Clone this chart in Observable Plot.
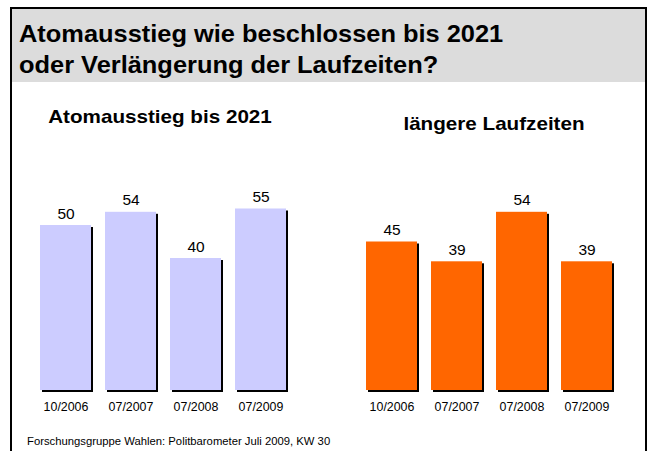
<!DOCTYPE html>
<html>
<head>
<meta charset="utf-8">
<script src="https://cdn.jsdelivr.net/npm/d3@7"></script>
<script src="https://cdn.jsdelivr.net/npm/@observablehq/plot@0.6"></script>
<style>
  body { margin: 0; background: #fff; }
  #page { position: relative; width: 653px; height: 451px; overflow: hidden; background: #fff; font-family: "Liberation Sans", Arial, sans-serif; }
  #frame { position: absolute; left: 10px; top: 7px; width: 637px; height: 480px; border: 2px solid #000; box-sizing: border-box; }
  #titlebox { position: absolute; left: 12px; top: 9px; width: 633px; height: 73px; background: #dcdcdc; }
  #title { position: absolute; left: 19px; top: 19px; font-size: 23.4px; font-weight: bold; line-height: 31px; color: #000; white-space: nowrap; transform: scaleX(1.086); transform-origin: left top; }
  .sub { position: absolute; font-size: 19px; font-weight: bold; color: #000; white-space: nowrap; transform: translateX(-50%) scaleX(1.086); }
  #caption { position: absolute; left: 27px; top: 436px; font-size: 10.4px; color: #000; white-space: nowrap; transform: scaleX(1.086); transform-origin: left top; }
  .plot { position: absolute; top: 130px; }
</style>
</head>
<body>
<div id="page">
  <div id="frame"></div>
  <div id="titlebox"></div>
  <div id="title">Atomausstieg wie beschlossen bis 2021<br>oder Verlängerung der Laufzeiten?</div>
  <div class="sub" style="left:160px; top:106px;">Atomausstieg bis 2021</div>
  <div class="sub" style="left:494px; top:113px;">längere Laufzeiten</div>
  <div id="left" class="plot" style="left:0px;"></div>
  <div id="right" class="plot" style="left:326px;"></div>
  <div id="caption">Forschungsgruppe Wahlen: Politbarometer Juli 2009, KW 30</div>
</div>
<script>
const dates = ["10/2006", "07/2007", "07/2008", "07/2009"];
const atomausstieg = [50, 54, 40, 55];
const laufzeiten = [45, 39, 54, 39];

function makeChart(values, color) {
  const data = dates.map((d, i) => ({date: d, value: values[i]}));
  return Plot.plot({
    width: 327,
    height: 300,
    marginTop: 0,
    marginBottom: 40,
    marginLeft: 0,
    marginRight: 0,
    style: {fontFamily: "Liberation Sans, Arial, sans-serif", background: "transparent"},
    x: {domain: dates, range: [26, 300], padding: 0.215, label: null},
    y: {domain: [0, 60], range: [260, 62], axis: null},
    marks: [
      Plot.barY(data, {x: "date", y: "value", fill: "#000", dx: 2, dy: 2}),
      Plot.barY(data, {x: "date", y: "value", fill: color}),
      Plot.text(data, {x: "date", y: "value", text: d => String(d.value), dy: -7, lineAnchor: "bottom", fontSize: 15.5, fill: "#000"}),
      Plot.axisX({tickSize: 0, tickPadding: 12, fontSize: 12.4, color: "#000", label: null})
    ]
  });
}

document.getElementById("left").appendChild(makeChart(atomausstieg, "#ccccff"));
document.getElementById("right").appendChild(makeChart(laufzeiten, "#ff6600"));
</script>
</body>
</html>
